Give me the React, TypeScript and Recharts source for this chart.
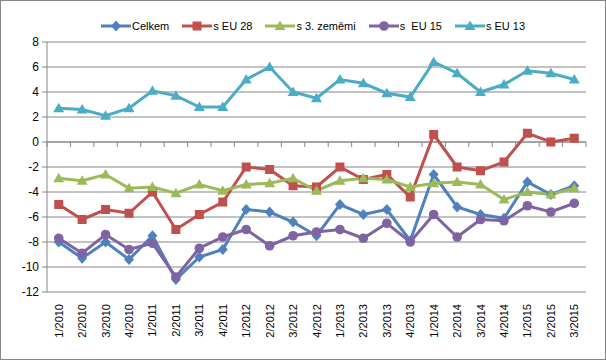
import { LineChart, Line, XAxis, YAxis, CartesianGrid, ReferenceLine } from 'recharts'

const categories = [
  '1/2010', '2/2010', '3/2010', '4/2010',
  '1/2011', '2/2011', '3/2011', '4/2011',
  '1/2012', '2/2012', '3/2012', '4/2012',
  '1/2013', '2/2013', '3/2013', '4/2013',
  '1/2014', '2/2014', '3/2014', '4/2014',
  '1/2015', '2/2015', '3/2015',
]

const celkem = [-8.0, -9.3, -8.0, -9.4, -7.5, -11.0, -9.2, -8.6, -5.4, -5.6, -6.4, -7.5, -5.0, -5.8, -5.4, -7.9, -2.6, -5.2, -5.8, -6.1, -3.2, -4.2, -3.5]
const eu28 = [-5.0, -6.2, -5.4, -5.7, -4.0, -7.0, -5.8, -4.8, -2.0, -2.2, -3.5, -3.6, -2.0, -3.0, -2.6, -4.4, 0.6, -2.0, -2.3, -1.6, 0.7, 0.0, 0.3]
const zememi = [-2.9, -3.1, -2.6, -3.7, -3.6, -4.1, -3.4, -3.9, -3.4, -3.3, -2.9, -3.9, -3.1, -2.9, -3.0, -3.6, -3.3, -3.2, -3.4, -4.6, -4.0, -4.2, -3.7]
const eu15 = [-7.7, -8.9, -7.4, -8.6, -8.1, -10.8, -8.5, -7.6, -7.0, -8.3, -7.5, -7.2, -7.0, -7.7, -6.5, -8.0, -5.8, -7.6, -6.2, -6.3, -5.1, -5.6, -4.9]
const eu13 = [2.7, 2.6, 2.1, 2.7, 4.1, 3.7, 2.8, 2.8, 5.0, 6.0, 4.0, 3.5, 5.0, 4.7, 3.9, 3.6, 6.4, 5.5, 4.0, 4.6, 5.7, 5.5, 5.0]

const yTicks = [-12, -10, -8, -6, -4, -2, 0, 2, 4, 6, 8]

type Marker = 'diamond' | 'square' | 'triangle' | 'circle'

const series: { key: string; name: string; color: string; marker: Marker }[] = [
  { key: 'celkem', name: 'Celkem', color: '#4F81BD', marker: 'diamond' },
  { key: 'eu28', name: 's EU 28', color: '#C0504D', marker: 'square' },
  { key: 'zememi', name: 's 3. zeměmi', color: '#9BBB59', marker: 'triangle' },
  { key: 'eu15', name: 's  EU 15', color: '#8064A2', marker: 'circle' },
  { key: 'eu13', name: 's EU 13', color: '#4BACC6', marker: 'triangle' },
]

const data = categories.map((c, i) => ({
  cat: c,
  celkem: celkem[i],
  eu28: eu28[i],
  zememi: zememi[i],
  eu15: eu15[i],
  eu13: eu13[i],
}))

const FONT = '"Liberation Sans", Arial, sans-serif'
const GRID = '#868686'

function markerShape(kind: Marker, cx: number, cy: number, color: string, key?: string | number) {
  if (kind === 'diamond') {
    return <path key={key} d={`M${cx},${cy - 5.5}L${cx + 5},${cy}L${cx},${cy + 5.5}L${cx - 5},${cy}Z`} fill={color} />
  }
  if (kind === 'square') {
    return <rect key={key} x={cx - 4.5} y={cy - 4.5} width={9} height={9} fill={color} />
  }
  if (kind === 'triangle') {
    return <path key={key} d={`M${cx},${cy - 5.5}L${cx + 5.5},${cy + 4}L${cx - 5.5},${cy + 4}Z`} fill={color} />
  }
  return <circle key={key} cx={cx} cy={cy} r={4.8} fill={color} />
}

function XTick({ x, y, payload }: any) {
  return (
    <text
      transform={`translate(${x + 4},${y + 10}) rotate(-90)`}
      textAnchor="end"
      fontSize={11}
      fontFamily={FONT}
      fill="#000"
    >
      {payload.value}
    </text>
  )
}

// zero line with tick marks between categories, like the Excel axis
function ZeroAxis(props: any) {
  const { x1, y1, x2 } = props
  const n = categories.length
  const step = (x2 - x1) / n
  return (
    <g>
      <line x1={x1} y1={y1} x2={x2} y2={y1} stroke={GRID} strokeWidth={1} />
      {Array.from({ length: n + 1 }, (_, i) => (
        <line key={i} x1={x1 + i * step} y1={y1} x2={x1 + i * step} y2={y1 + 5} stroke={GRID} strokeWidth={1} />
      ))}
    </g>
  )
}

function LegendRow() {
  return (
    <div
      style={{
        position: 'absolute',
        top: 19,
        left: 10,
        width: 606,
        display: 'flex',
        justifyContent: 'center',
        gap: 13,
        fontFamily: FONT,
        fontSize: 11,
        lineHeight: '14px',
      }}
    >
      {series.map(s => (
        <div key={s.key} style={{ display: 'flex', alignItems: 'center' }}>
          <svg width={30} height={14}>
            <line x1={0} y1={7} x2={30} y2={7} stroke={s.color} strokeWidth={3} />
            {markerShape(s.marker, 15, 7, s.color)}
          </svg>
          <span style={{ whiteSpace: 'pre', marginLeft: 1 }}>{s.name}</span>
        </div>
      ))}
    </div>
  )
}

export default function App() {
  return (
    <div style={{ position: 'absolute', left: 0, top: 0, width: 606, height: 360, background: '#fff' }}>
      <LineChart width={606} height={360} data={data} margin={{ top: 42, right: 20, bottom: 0, left: 0 }}>
        <CartesianGrid vertical={false} stroke={GRID} />
        <XAxis
          dataKey="cat"
          scale="band"
          interval={0}
          axisLine={false}
          tickLine={false}
          tickSize={0}
          height={68}
          tick={<XTick />}
        />
        <YAxis
          domain={[-12, 8]}
          ticks={yTicks}
          width={47}
          tickSize={5}
          tickMargin={3}
          axisLine={{ stroke: GRID }}
          tickLine={{ stroke: GRID }}
          tick={{ fontSize: 12, fill: '#000', fontFamily: FONT }}
          allowDataOverflow
        />
        <ReferenceLine y={0} shape={<ZeroAxis />} />
        {series.map(s => (
          <Line
            key={s.key}
            dataKey={s.key}
            name={s.name}
            stroke={s.color}
            strokeWidth={3}
            isAnimationActive={false}
            activeDot={false}
            dot={(p: any) => markerShape(s.marker, p.cx, p.cy, s.color, p.index)}
          />
        ))}
      </LineChart>
      <LegendRow />
      <div
        style={{
          position: 'absolute',
          left: 0,
          top: 0,
          width: 606,
          height: 360,
          boxSizing: 'border-box',
          border: '1px solid #868686',
          pointerEvents: 'none',
        }}
      />
    </div>
  )
}
